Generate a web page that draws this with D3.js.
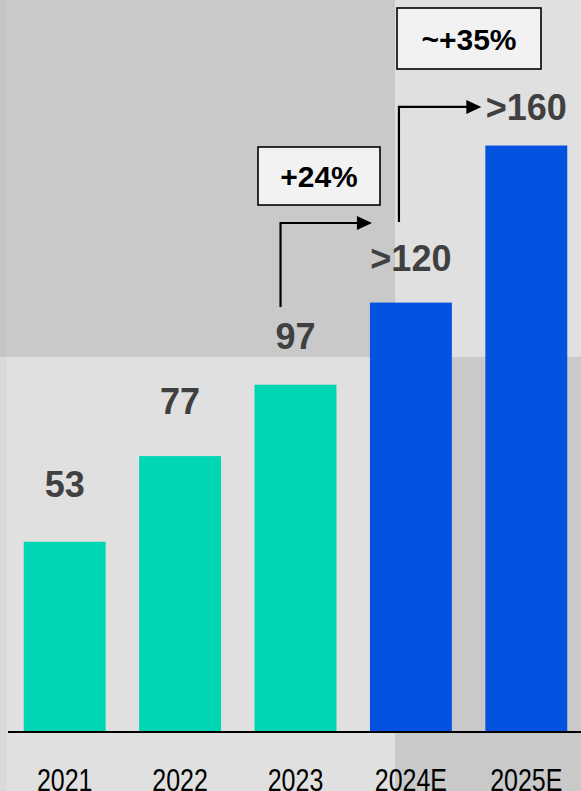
<!DOCTYPE html>
<html><head><meta charset="utf-8">
<script src="https://cdn.jsdelivr.net/npm/d3@7"></script>
<style>
html,body{margin:0;padding:0;background:#e0e0e0;}
svg{display:block;}
</style></head>
<body><div id="chart"></div>
<script>
const categories = ["2021", "2022", "2023", "2024E", "2025E"];
const values = [53, 77, 97, 120, 164];
const valueLabels = ["53", "77", "97", ">120", ">160"];
const isEstimate = [false, false, false, true, true];
const growthLabels = ["+24%", "~+35%"];

const W = 581, H = 791;
const svg = d3.select("#chart").append("svg").attr("width", W).attr("height", H);
const font = "'Liberation Sans', Arial, sans-serif";

// background panels
svg.append("rect").attr("x", 0).attr("y", 0).attr("width", W).attr("height", H).attr("fill", "#e0e0e0");
svg.append("rect").attr("x", 0).attr("y", 0).attr("width", 395).attr("height", 357).attr("fill", "#c9c9c9");
svg.append("rect").attr("x", 395).attr("y", 357).attr("width", W - 395).attr("height", H - 357).attr("fill", "#c9c9c9");
svg.append("rect").attr("x", 0).attr("y", 0).attr("width", 7).attr("height", 357).attr("fill", "#c5c5c5");
svg.append("rect").attr("x", 0).attr("y", 357).attr("width", 7).attr("height", H - 357).attr("fill", "#d9d9d9");

const x = d3.scaleBand().domain(categories).range([7, 584]).paddingInner(0.29).paddingOuter(0.145);
const y = d3.scaleLinear().domain([0, 100]).range([731, 374]);

const data = categories.map((c, i) => ({ c, v: values[i], label: valueLabels[i], est: isEstimate[i] }));

svg.selectAll("rect.bar").data(data).enter().append("rect")
  .attr("class", "bar")
  .attr("x", d => x(d.c)).attr("width", x.bandwidth())
  .attr("y", d => y(d.v)).attr("height", d => y(0) - y(d.v))
  .attr("fill", d => d.est ? "#0552e1" : "#00d5b4");

const labelGap = [45, 42, 36, 32, 26];
svg.selectAll("text.val").data(data).enter().append("text")
  .attr("class", "val")
  .attr("x", d => x(d.c) + x.bandwidth() / 2)
  .attr("y", (d, i) => y(d.v) - labelGap[i])
  .attr("text-anchor", "middle")
  .attr("font-family", font).attr("font-weight", "bold").attr("font-size", 36)
  .attr("fill", "#404040")
  .text(d => d.label);

// axis
const axis = svg.append("g").attr("transform", `translate(0,${y(0)})`)
  .call(d3.axisBottom(x).tickSize(0).tickPadding(0));
axis.select(".domain").remove();
axis.selectAll("text")
  .attr("font-family", font).attr("font-size", 25).attr("fill", "#000")
  .attr("y", 0).attr("dy", 0)
  .attr("transform", "translate(0,60) scale(1,1.22)");
svg.append("line").attr("x1", 8).attr("x2", W).attr("y1", y(0) + 1).attr("y2", y(0) + 1)
  .attr("stroke", "#000").attr("stroke-width", 2);

// growth arrows
function arrow(xv, y0, y1, xt) {
  svg.append("path").attr("d", `M${xv},${y0}V${y1}H${xt - 13}`)
    .attr("fill", "none").attr("stroke", "#000").attr("stroke-width", 2.2);
  svg.append("path").attr("d", `M${xt - 15},${y1 - 7}L${xt},${y1}L${xt - 15},${y1 + 7}Z`).attr("fill", "#000");
}
arrow(x("2023") + 26, y(118.8), y(142.3), x("2024E") + 2);
arrow(x("2024E") + 29, y(142.6), y(174.8), x("2025E") - 4);

// growth boxes
const boxes = [
  { x: 258, y: 147, w: 122, h: 58, label: growthLabels[0] },
  { x: 397, y: 8, w: 144, h: 61, label: growthLabels[1] }
];
boxes.forEach(b => {
  svg.append("rect").attr("x", b.x).attr("y", b.y).attr("width", b.w).attr("height", b.h)
    .attr("fill", "#f2f2f2").attr("stroke", "#000").attr("stroke-width", 1.6);
  svg.append("text").attr("x", b.x + b.w / 2).attr("y", b.y + b.h / 2 + 11)
    .attr("text-anchor", "middle").attr("font-family", font).attr("font-weight", "bold")
    .attr("font-size", 30).attr("fill", "#000").text(b.label);
});
</script></body></html>
